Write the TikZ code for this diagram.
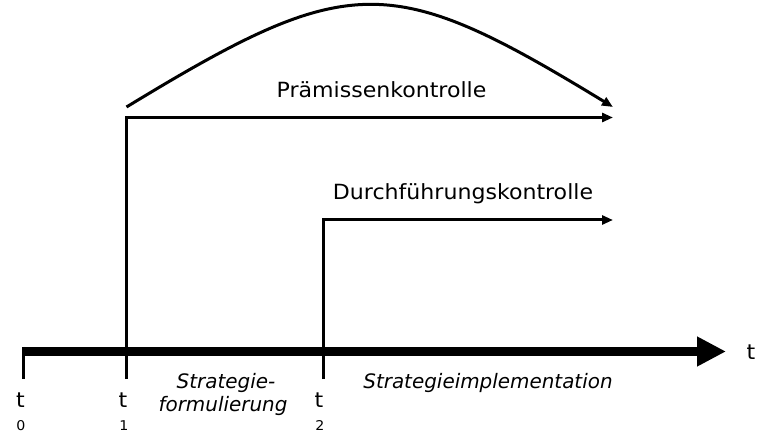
\documentclass[tikz,border=0pt]{standalone}
\usepackage{fontspec}
\setmainfont{DejaVu Sans}[UprightFeatures={FakeStretch=1.055}]
\usetikzlibrary{arrows.meta}
\begin{document}
\begin{tikzpicture}[x=1bp,y=-1bp,
  lbl/.style={font=\fontsize{21}{24}\selectfont, inner sep=0pt, anchor=base},
  sublbl/.style={font=\fontsize{13.5}{16}\selectfont, inner sep=0pt, anchor=base},
  itl/.style={font=\fontsize{20}{24}\selectfont\itshape, inner sep=0pt, anchor=base},
  thinarrow/.style={line width=3bp, -{Triangle[length=11bp,width=9bp]}},
  tick/.style={line width=3bp},
  axisarrow/.style={line width=9bp, -{Triangle[length=29bp,width=28bp]}}]
\useasboundingbox (0,0) rectangle (766,444);
% coordinates
\coordinate (o) at (23,351.5);
\coordinate (axend) at (726,351.5);
\coordinate (t0top) at (23,347);
\coordinate (t0bot) at (23,379);
\coordinate (t1bot) at (126.5,379);
\coordinate (p1end) at (613,117.5);
\coordinate (t2bot) at (323,379);
\coordinate (p2end) at (613,220);
\coordinate (cstart) at (126.5,107);
\coordinate (cend) at (613,107);
% axis
\draw[axisarrow] (o) -- (axend);
\draw[tick] (t0top) -- (t0bot);
% control arrows
\draw[thinarrow] (t1bot) |- (p1end);
\draw[thinarrow] (t2bot) |- (p2end);
\draw[thinarrow] (cstart) .. controls (350,-29) and (390,-29) .. (cend);
% labels
\node[lbl] (pk) at (381.5,98) {Prämissenkontrolle};
\node[lbl] (dk) at (463,200) {Durchführungskontrolle};
\node[lbl] (tt) at (751,360) {t};
\node[lbl] (lt0) at (20.5,407) {t};
\node[sublbl] (s0) at (21,430) {0};
\node[lbl] (lt1) at (123,407) {t};
\node[sublbl] (s1) at (124,430) {1};
\node[lbl] (lt2) at (319,407) {t};
\node[sublbl] (s2) at (320,430) {2};
\node[itl] (sf1) at (226,388) {Strategie-};
\node[itl] (sf2) at (223,411) {formulierung};
\node[itl] (si) at (488,388) {Strategieimplementation};
\end{tikzpicture}
\end{document}
